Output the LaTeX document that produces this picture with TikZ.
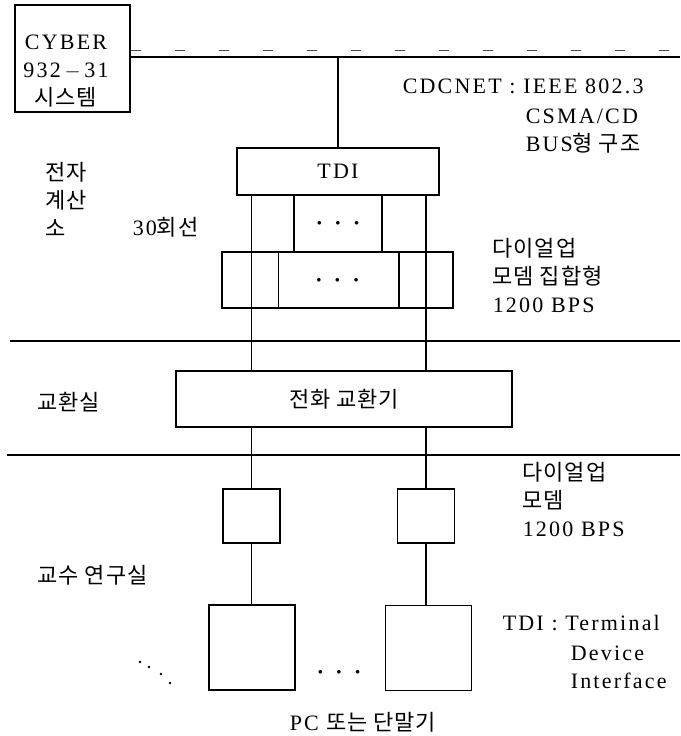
\documentclass[tikz,border=0pt]{standalone}
\usepackage{fontspec}
\setmainfont{Liberation Serif}[LetterSpace=10]
\newfontfamily\kr{Noto Sans CJK KR}[LetterSpace=4]
\newcommand{\stack}[1]{\begin{tabular}[t]{@{}l@{}}#1\end{tabular}}
\newcommand{\dotrow}{{\fontsize{9}{9}\selectfont$\bullet$\hspace{14pt}$\bullet$\hspace{14pt}$\bullet$}}

\begin{document}
\begin{tikzpicture}[x=1pt, y=-1pt, line width=1.5pt,
  every node/.style={font=\fontsize{22}{28}\selectfont, inner sep=0pt},
  box/.style={draw, line width=1.7pt}]
	\useasboundingbox (0,0) rectangle (680,736);
	% host and bus
	\node[box, minimum width=115, minimum height=107] (cyber) at (72.5,58.5) {};
	\node[align=center] (cybertext) at (66,71) {CYBER\\932\,$-$\,31\\{\kr 시스템}};
	\coordinate (busend) at (680,57);
	\draw (cyber.east |- busend) -- (busend);
	\draw[dash pattern=on 10pt off 34pt, line width=0.8pt, black!70] ([yshift=7pt]cyber.east |- busend) -- ([yshift=7pt]busend);
	\node[anchor=base west] (cdcnet) at (402,93) {CDCNET : IEEE 802.3};
	\node[anchor=base west] (csma) at (525,123) {\stack{CSMA/CD\\BUS{\kr 형 구조}}};
	% computer centre
	\node[box, minimum width=202, minimum height=47] (tdi) at (338,171.5) {TDI};
	\node[box, minimum width=88, minimum height=57] (mux) at (338,223.5) {\dotrow};
	\node[box, minimum width=231, minimum height=56] (modems) at (337.5,280) {\dotrow};
	\draw ([xshift=57.5pt]modems.north west) -- ([xshift=57.5pt]modems.south west);
	\draw ([xshift=-55pt]modems.north east) -- ([xshift=-55pt]modems.south east);
	\node[anchor=base west] (centre) at (45,180) {\kr\stack{전자\\계산\\소}};
	\node[anchor=base west] (lines) at (132,235) {30{\kr 회선}};
	\node[anchor=base west] (poolnote) at (492,256) {\stack{{\kr 다이얼업}\\{\kr 모뎀 집합형}\\1200 BPS}};
	\draw (tdi.north) -- (tdi.north |- busend);
	% exchange room
	\coordinate (divAl) at (10,341);
	\coordinate (divAr) at (680,341);
	\coordinate (divBl) at (7,455);
	\coordinate (divBr) at (680,455);
	\draw (divAl) -- (divAr);
	\draw (divBl) -- (divBr);
	\node[box, minimum width=336, minimum height=56] (pbx) at (344,399) {{\kr 전화 교환기}};
	\node[anchor=base west] (exroom) at (37,410) {\kr 교환실};
	% offices
	\node[box, minimum width=57, minimum height=54] (modemL) at (251.5,516) {};
	\node[box, minimum width=57, minimum height=54] (modemR) at (426,516) {};
	\node[box, minimum width=86, minimum height=85] (pcL) at (252,647.5) {};
	\node[box, minimum width=86, minimum height=85] (pcR) at (428.5,648) {};
	\node (pcdots) at (339,672) {\dotrow};
	\foreach \p in {(140,662),(149,667),(161,674),(170,683)} {\fill \p circle (1.3pt);}
	\node[anchor=base west] (office) at (37,583) {\kr 교수 연구실};
	\node[anchor=base west] (modemnote) at (522,480) {\stack{{\kr 다이얼업}\\{\kr 모뎀}\\1200 BPS}};
	\node[anchor=base west] (tdinote) at (502,630) {TDI : Terminal};
	\node[anchor=base west] (tdinote2) at (570,660) {\stack{Device\\Interface}};
	\node[anchor=base] (pclabel) at (363,730) {PC {\kr 또는 단말기}};
	% lines
	\foreach \m in {modemL,modemR} {
		\draw (tdi.south -| \m.north) -- (pbx.north -| \m.north);
		\draw (pbx.south -| \m.north) -- (\m.north);
	}
	\draw (modemL.south) -- (modemL.south |- pcL.north);
	\draw (modemR.south) -- (modemR.south |- pcR.north);
\end{tikzpicture}
\end{document}
